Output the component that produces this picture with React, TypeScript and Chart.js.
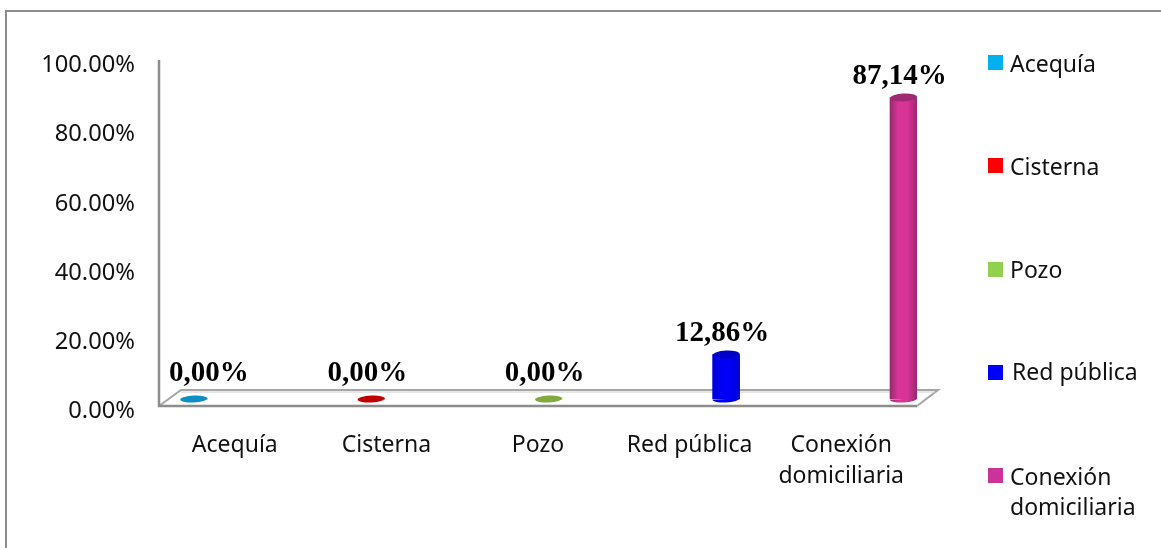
import React, { useEffect, useRef } from "react";
import { Chart, registerables } from "chart.js";

Chart.register(...registerables);

const categories: (string | string[])[] = ["Acequía", "Cisterna", "Pozo", "Red pública", ["Conexión", "domiciliaria"]];
const barPositions = [0, 1, 2, 3, 4];
const values = [0, 0, 0, 12.86, 87.14];
const valueLabels = ["0,00%", "0,00%", "0,00%", "12,86%", "87,14%"];
const legendColors = ["#00B0F0", "#FF0000", "#92D050", "#0000FF", "#CC3399"];
const bodyColors = ["#00B0F0", "#FF0000", "#92D050", "#0000F4", "#D83498"];
const sideColors = ["#0E8FC4", "#C00000", "#7FAA3E", "#0000D8", "#98286F"];
const capColors = ["#0E8FC4", "#C00000", "#7FAA3E", "#0000C8", "#9E2A72"];
const yTicks = [0, 20, 40, 60, 80, 100];

const AXIS = "#8C8C8C";
const SANS = '"Noto Sans", sans-serif';
const SERIF = '"Liberation Serif", serif';
const TEXT_SIZE = 23;

function sideFill(ctx: CanvasRenderingContext2D, x: number, rx: number, i: number) {
  if (!Number.isFinite(x)) return bodyColors[i];
  const g = ctx.createLinearGradient(x - rx, 0, x + rx, 0);
  g.addColorStop(0, sideColors[i]);
  g.addColorStop(0.3, bodyColors[i]);
  g.addColorStop(0.65, bodyColors[i]);
  g.addColorStop(1, sideColors[i]);
  return g;
}

const scene = {
  id: "scene",
  beforeDraw(chart: any) {
    const { ctx, chartArea: a, width } = chart;
    ctx.save();
    ctx.fillStyle = "#fff";
    ctx.fillRect(0, 0, width, chart.height);
    ctx.strokeStyle = AXIS;
    ctx.lineWidth = 2;
    ctx.beginPath();
    ctx.moveTo(6, 548);
    ctx.lineTo(6, 11);
    ctx.lineTo(1161, 11);
    ctx.stroke();
    // floor of the 3-D plot
    ctx.strokeStyle = "#A6A6A6";
    ctx.lineWidth = 2;
    ctx.beginPath();
    ctx.moveTo(a.left, a.bottom);
    ctx.lineTo(a.left + 22, a.bottom - 16);
    ctx.lineTo(a.right + 21, a.bottom - 16);
    ctx.lineTo(a.right, a.bottom);
    ctx.stroke();
    ctx.strokeStyle = "#D0D0D0";
    ctx.lineWidth = 1;
    ctx.beginPath();
    ctx.moveTo(a.left + 22, a.bottom - 14);
    ctx.lineTo(a.right + 18, a.bottom - 14);
    ctx.stroke();
    ctx.strokeStyle = AXIS;
    ctx.lineWidth = 2.5;
    ctx.beginPath();
    ctx.moveTo(a.left, a.top);
    ctx.lineTo(a.left, a.bottom);
    ctx.lineTo(a.right, a.bottom);
    ctx.stroke();
    ctx.restore();
  },
  afterDatasetsDraw(chart: any) {
    const { ctx } = chart;
    const bars = chart.getDatasetMeta(0).data;
    ctx.save();
    bars.forEach((bar: any, i: number) => {
      const rx = 13.5;
      const tilt = -0.05;
      if (values[i] === 0) {
        ctx.fillStyle = capColors[i];
        ctx.beginPath();
        ctx.ellipse(bar.x, bar.base, rx, 3.4, tilt, 0, Math.PI * 2);
        ctx.fill();
      } else {
        ctx.fillStyle = sideFill(ctx, bar.x, rx, i);
        ctx.beginPath();
        ctx.ellipse(bar.x, bar.base, rx, 3.4, tilt, 0, Math.PI);
        ctx.fill();
        ctx.fillStyle = capColors[i];
        ctx.beginPath();
        ctx.ellipse(bar.x, bar.y, rx, 4, tilt, 0, Math.PI * 2);
        ctx.fill();
      }
      ctx.font = `bold 29px ${SERIF}`;
      ctx.fillStyle = "#000";
      ctx.textAlign = "center";
      ctx.textBaseline = "middle";
      const nudge = i === 0 ? 15 : -4;
      const rise = values[i] === 0 ? 25 : 21;
      ctx.fillText(valueLabels[i], bar.x + nudge, bar.y - rise);
    });

    // legend
    const legendTops = [55, 158, 262, 365, 468];
    const legendTextY = [65, 168, 271, 373, 478];
    ctx.textAlign = "left";
    ctx.textBaseline = "middle";
    ctx.font = `${TEXT_SIZE}px ${SANS}`;
    categories.forEach((cat, i) => {
      ctx.fillStyle = legendColors[i];
      ctx.fillRect(988, legendTops[i], 15, 15);
      ctx.fillStyle = "#111";
      const lines = Array.isArray(cat) ? cat : [cat];
      const tx = i === 3 ? 1012 : 1010;
      lines.forEach((line, k) => ctx.fillText(line, tx, legendTextY[i] + k * 30));
    });
    ctx.restore();
  },
};

export default function App() {
  const ref = useRef<HTMLCanvasElement>(null);
  useEffect(() => {
    const chart = new Chart(ref.current!, {
      type: "bar",
      data: {
        labels: categories as any,
        datasets: [
          {
            data: barPositions.map((x, i) => ({ x, y: values[i] })),
            xAxisID: "xBars",
            yAxisID: "yBars",
            barThickness: 27,
            backgroundColor: (c: any) => {
              const s = c.chart.scales.xBars;
              if (!s) return bodyColors[c.dataIndex];
              return sideFill(c.chart.ctx, s.getPixelForValue(c.dataIndex), 13.5, c.dataIndex);
            },
          },
        ] as any,
      },
      plugins: [scene],
      options: {
        animation: false,
        responsive: false,
        layout: { padding: { top: 60, right: 244, left: 0, bottom: 0 } },
        plugins: { legend: { display: false }, tooltip: { enabled: false }, title: { display: false } },
        scales: {
          x: {
            type: "category",
            position: "bottom",
            grid: { display: false, drawTicks: false },
            border: { display: false },
            ticks: { color: "#111", padding: 24, maxRotation: 0, autoSkip: false, font: { family: SANS, size: TEXT_SIZE, lineHeight: 1.35 } },
            afterFit: (s: any) => { s.height = 142; },
          },
          y: {
            min: 1.6,
            max: 101.6,
            position: "left",
            grid: { display: false, drawTicks: false },
            border: { display: false },
            afterBuildTicks: (s: any) => { s.ticks = yTicks.map((value) => ({ value })); },
            ticks: { color: "#111", padding: 24, callback: (v: any) => Number(v).toFixed(2) + "%", font: { family: SANS, size: 23.7 } },
            afterFit: (s: any) => { s.width = 159; },
          },
          xBars: { type: "linear", display: false, offset: false, min: -0.197, max: 4.076 },
          yBars: { type: "linear", display: false, min: -2.02, max: 97.98 },
        },
      } as any,
    });
    return () => chart.destroy();
  }, []);
  return (
    <div style={{ position: "fixed", left: 0, top: 0, width: 1161, height: 548 }}>
      <canvas ref={ref} width={1161} height={548} style={{ display: "block" }} />
    </div>
  );
}
